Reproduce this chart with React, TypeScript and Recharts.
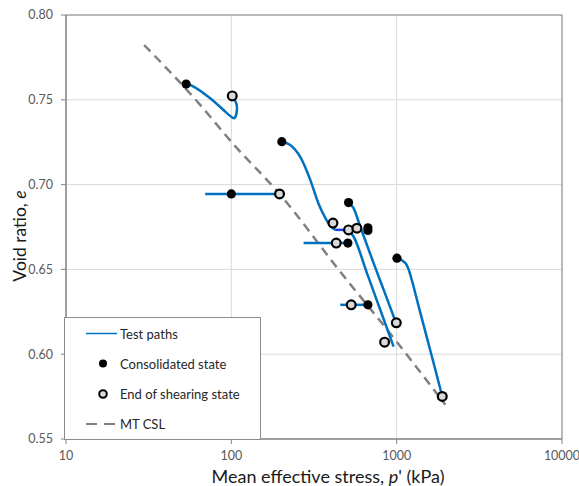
import {
  CartesianGrid,
  ComposedChart,
  Line,
  ReferenceArea,
  Scatter,
  XAxis,
  YAxis,
} from "recharts";

type StatePoint = {
  p: number;
  e: number;
};

const xTicks = [10, 100, 1000, 10000];
const yTicks = [0.55, 0.6, 0.65, 0.7, 0.75, 0.8];

// test paths (p' in kPa, void ratio e)
const pathA: StatePoint[] = [
  { p: 53.3, e: 0.7593 },
  { p: 59.1, e: 0.7578 },
  { p: 74.5, e: 0.7509 },
  { p: 91.9, e: 0.743 },
  { p: 100.8, e: 0.7397 },
  { p: 105.6, e: 0.7397 },
  { p: 108.1, e: 0.744 },
  { p: 107.1, e: 0.748 },
  { p: 101.3, e: 0.7523 },
];
const pathB: StatePoint[] = [
  { p: 69.5, e: 0.6945 },
  { p: 195.7, e: 0.6945 },
];
const pathC: StatePoint[] = [
  { p: 202, e: 0.7253 },
  { p: 227.2, e: 0.7234 },
  { p: 261.2, e: 0.7163 },
  { p: 300.2, e: 0.7028 },
  { p: 335.5, e: 0.6892 },
  { p: 369.9, e: 0.6804 },
  { p: 396.6, e: 0.6757 },
  { p: 425.2, e: 0.6733 },
];
const pathD: StatePoint[] = [
  { p: 273.5, e: 0.6655 },
  { p: 507, e: 0.6655 },
];
const pathE: StatePoint[] = [
  { p: 456, e: 0.6291 },
  { p: 670.5, e: 0.6291 },
];
const pathF: StatePoint[] = [
  { p: 1004, e: 0.6566 },
  { p: 1127, e: 0.6539 },
  { p: 1184, e: 0.6497 },
  { p: 1234, e: 0.6438 },
  { p: 1351, e: 0.6291 },
  { p: 1511, e: 0.6111 },
  { p: 1689, e: 0.5932 },
  { p: 1835, e: 0.5796 },
  { p: 1887, e: 0.5751 },
];
const pathG: StatePoint[] = [
  { p: 511.6, e: 0.6894 },
  { p: 548.5, e: 0.6861 },
  { p: 602.3, e: 0.6752 },
  { p: 725.2, e: 0.6537 },
  { p: 873.7, e: 0.6328 },
  { p: 987.6, e: 0.6188 },
];
const pathH: StatePoint[] = [
  { p: 511.6, e: 0.6733 },
  { p: 548.5, e: 0.6694 },
  { p: 661.3, e: 0.6478 },
  { p: 795.7, e: 0.6262 },
  { p: 957.8, e: 0.6045 },
];
// short overlapping bit near 0.673, shows darker in the original
const overlapSegment: StatePoint[] = [
  { p: 425.2, e: 0.6733 },
  { p: 511.6, e: 0.6733 },
];

const testPaths = [pathA, pathB, pathC, pathD, pathE, pathF, pathG, pathH];

const mtCsl: StatePoint[] = [
  { p: 29.7, e: 0.7823 },
  { p: 64.8, e: 0.747 },
  { p: 101.3, e: 0.7246 },
  { p: 195.7, e: 0.6945 },
  { p: 456, e: 0.6486 },
  { p: 893, e: 0.6134 },
  { p: 1970, e: 0.5702 },
];

const consolidatedStates: StatePoint[] = [
  { p: 53.3, e: 0.7593 },
  { p: 100, e: 0.6945 },
  { p: 202, e: 0.7253 },
  { p: 511.6, e: 0.6894 },
  { p: 507, e: 0.6655 },
  { p: 670, e: 0.6745 },
  { p: 670, e: 0.673 },
  { p: 670, e: 0.6291 },
  { p: 1004, e: 0.6566 },
];

const endOfShearingStates: StatePoint[] = [
  { p: 101.3, e: 0.7523 },
  { p: 195.7, e: 0.6945 },
  { p: 411.8, e: 0.6773 },
  { p: 431, e: 0.6655 },
  { p: 511.6, e: 0.6733 },
  { p: 575, e: 0.6743 },
  { p: 531, e: 0.6291 },
  { p: 845, e: 0.6071 },
  { p: 995, e: 0.6185 },
  { p: 1887, e: 0.5751 },
];

const FONT = 'Lato, "Open Sans", sans-serif';
const PATH_BLUE = "#0070c0";
const AXIS_GREY = "#868686";
const TEXT_GREY = "#595959";

const FilledDot = (props: any) => (
  <circle cx={props.cx} cy={props.cy} r={4.6} fill="#000" />
);

const OpenRing = (props: any) => (
  <circle
    cx={props.cx}
    cy={props.cy}
    r={4.4}
    fill="#d9d9d9"
    stroke="#000"
    strokeWidth={2.2}
  />
);

const LegendBox = () => (
  <div
    style={{
      position: "absolute",
      left: 64,
      top: 317,
      width: 197,
      height: 123,
      boxSizing: "border-box",
      border: "1px solid #8c8c8c",
      background: "#fff",
    }}
  >
    <svg width={195} height={121} style={{ display: "block" }}>
      <g fontFamily={FONT} fontSize={13} fill="#262626">
        <line x1={21} y1={15.5} x2={52} y2={15.5} stroke={PATH_BLUE} strokeWidth={1.5} />
        <text x={55} y={15.5} dominantBaseline="central">Test paths</text>
        <circle cx={38} cy={45.5} r={4} fill="#000" />
        <text x={55} y={45.5} dominantBaseline="central">Consolidated state</text>
        <circle cx={38} cy={76} r={3.8} fill="#d9d9d9" stroke="#000" strokeWidth={2} />
        <text x={55} y={76} dominantBaseline="central">End of shearing state</text>
        <line
          x1={21}
          y1={106}
          x2={52}
          y2={106}
          stroke="#808080"
          strokeWidth={2.2}
          strokeDasharray="11 7"
        />
        <text x={55} y={106} dominantBaseline="central">MT CSL</text>
      </g>
    </svg>
  </div>
);

export default function App() {
  return (
    <div
      style={{
        position: "absolute",
        left: 0,
        top: 0,
        width: 579,
        height: 486,
        background: "#fff",
        fontFamily: FONT,
      }}
    >
      <ComposedChart
        width={579}
        height={486}
        margin={{ top: 15, right: 17, bottom: 0, left: 0 }}
      >
        <CartesianGrid stroke="#d9d9d9" strokeWidth={1} />
        <ReferenceArea
          x1={10}
          x2={10000}
          y1={0.55}
          y2={0.8}
          fill="none"
          stroke={AXIS_GREY}
          strokeWidth={1}
        />
        <XAxis
          dataKey="p"
          type="number"
          scale="log"
          domain={[10, 10000]}
          ticks={xTicks}
          allowDataOverflow
          height={47}
          tickSize={5}
          tickMargin={7}
          stroke={AXIS_GREY}
          tick={{ fill: TEXT_GREY, fontSize: 12.5, fontFamily: FONT }}
        />
        <YAxis
          dataKey="e"
          type="number"
          domain={[0.55, 0.8]}
          ticks={yTicks}
          allowDataOverflow
          width={66}
          tickSize={5}
          tickMargin={8}
          stroke={AXIS_GREY}
          tick={{ fill: TEXT_GREY, fontSize: 12.5, fontFamily: FONT }}
          tickFormatter={(v: number) => v.toFixed(2)}
        />
        <Line
          data={mtCsl}
          dataKey="e"
          type="monotone"
          stroke="#808080"
          strokeWidth={2.5}
          strokeDasharray="9 6"
          dot={false}
          activeDot={false}
          isAnimationActive={false}
        />
        {testPaths.map((path, index) => (
          <Line
            key={index}
            data={path}
            dataKey="e"
            type={path === pathA ? "natural" : "monotone"}
            stroke={PATH_BLUE}
            strokeWidth={2.5}
            dot={false}
            activeDot={false}
            isAnimationActive={false}
          />
        ))}
        <Line
          data={overlapSegment}
          dataKey="e"
          type="linear"
          stroke="#1c3fd6"
          strokeWidth={2.5}
          dot={false}
          activeDot={false}
          isAnimationActive={false}
        />
        <Scatter
          data={consolidatedStates}
          dataKey="e"
          shape={FilledDot}
          isAnimationActive={false}
        />
        <Scatter
          data={endOfShearingStates}
          dataKey="e"
          shape={OpenRing}
          isAnimationActive={false}
        />
        <text
          transform="translate(19,236) rotate(-90)"
          textAnchor="middle"
          dominantBaseline="central"
          fontSize={17.5}
          fontFamily={FONT}
          fill="#1a1a1a"
        >
          Void ratio, <tspan fontStyle="italic">e</tspan>
        </text>
        <text
          x={328}
          y={476}
          textAnchor="middle"
          dominantBaseline="central"
          fontSize={18}
          fontFamily={FONT}
          fill="#1a1a1a"
        >
          Mean effective stress, <tspan fontStyle="italic">p</tspan>' (kPa)
        </text>
      </ComposedChart>
      <LegendBox />
    </div>
  );
}
